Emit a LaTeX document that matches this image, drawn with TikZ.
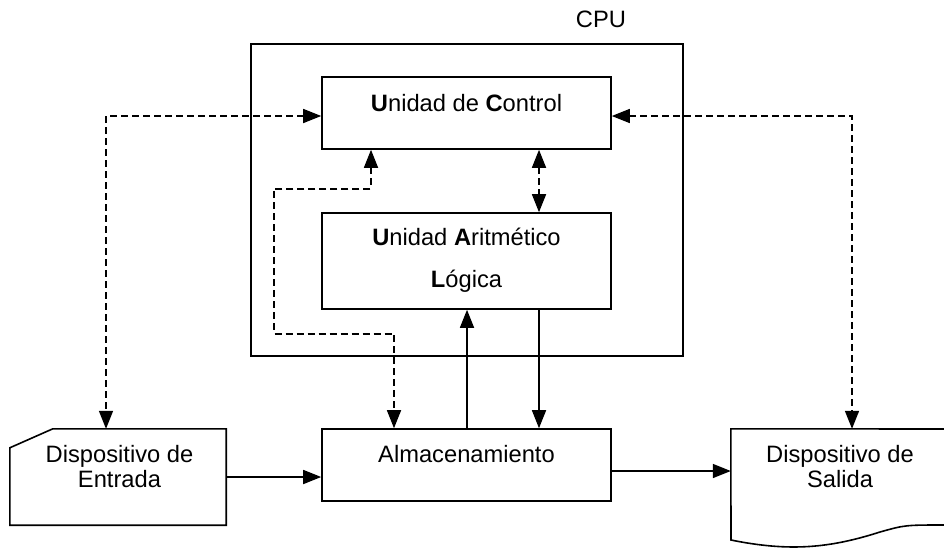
\documentclass[tikz,border=0pt]{standalone}
\usepackage{fontspec}
\setmainfont{Liberation Sans}
\usetikzlibrary{arrows.meta,calc}

\begin{document}
\begin{tikzpicture}[x=1pt,y=-1pt,>={Triangle[length=18pt,width=14pt]},
  box/.style={draw,line width=1.6pt,inner sep=0pt},
  lbl/.style={anchor=base,inner sep=0pt,font=\fontsize{23.7}{25}\selectfont},
  sline/.style={line width=1.6pt,->},
  dline/.style={line width=1.6pt,dash pattern=on 7pt off 4pt,<->}]
\useasboundingbox (0,0) rectangle (944,547);
\node[box,minimum width=432pt,minimum height=312pt] (cpu) at (467,200) {};
\node[box,minimum width=289pt,minimum height=72pt] (ctrl) at (466.5,113) {};
\node[box,minimum width=289pt,minimum height=96pt] (alu) at (466.5,261) {};
\node[box,minimum width=289pt,minimum height=72pt] (alm) at (466.5,465) {};
\node[minimum width=216pt,minimum height=96pt,inner sep=0pt] (ent) at (118,477) {};
\node[minimum width=242pt,minimum height=111pt,inner sep=0pt] (sal) at (852,484.5) {};
\draw[line width=1.6pt] (ent.south west) -- ($(ent.north west)+(0,19)$) -- ($(ent.north west)+(43,0)$) -- (ent.north east) -- (ent.south east) -- cycle;
\draw[line width=1.6pt] (944,429) -- (sal.north west) -- (731,540) .. controls (790,552) and (830,548) .. (880,532) .. controls (905,525) .. (944,525);
\node[lbl] (cpulbl) at (601,27) {CPU};
\node[lbl] (ctrllbl) at (466.5,111) {\textbf{U}nidad de \textbf{C}ontrol};
\node[lbl] (alulbla) at (466.5,245) {\textbf{U}nidad \textbf{A}ritmético};
\node[lbl] (alulblb) at (466.5,287) {\textbf{L}ógica};
\node[lbl] (almlbl) at (466.5,462) {Almacenamiento};
\node[lbl] (entlbla) at (119.5,462) {Dispositivo de};
\node[lbl] (entlblb) at (119.5,487) {Entrada};
\node[lbl] (sallbla) at (840,462) {Dispositivo de};
\node[lbl] (sallblb) at (840,487) {Salida};
% dashed links
\draw[dline] ($(ctrl.west)+(0,3)$) -| ([xshift=-12pt]ent.north);
\draw[dline] ($(ctrl.east)+(0,3)$) -| (sal.north);
\draw[dline] ([xshift=72.5pt]ctrl.south) -- ([xshift=72.5pt]alu.north);
\draw[dline] ([xshift=-95.5pt]ctrl.south) -- ++(0,39) -| ++(-97,145) -| ([xshift=-72.5pt]alm.north);
% data flow
\draw[sline] ([xshift=0.5pt]alm.north) -- ([xshift=0.5pt]alu.south);
\draw[sline] ([xshift=72.5pt]alu.south) -- ([xshift=72.5pt]alm.north);
\draw[sline] (ent.east) -- (ent.east -| alm.west);
\coordinate (almout) at ($(alm.east)+(0,6)$);
\draw[sline] (almout) -- (almout -| sal.west);
\end{tikzpicture}
\end{document}
